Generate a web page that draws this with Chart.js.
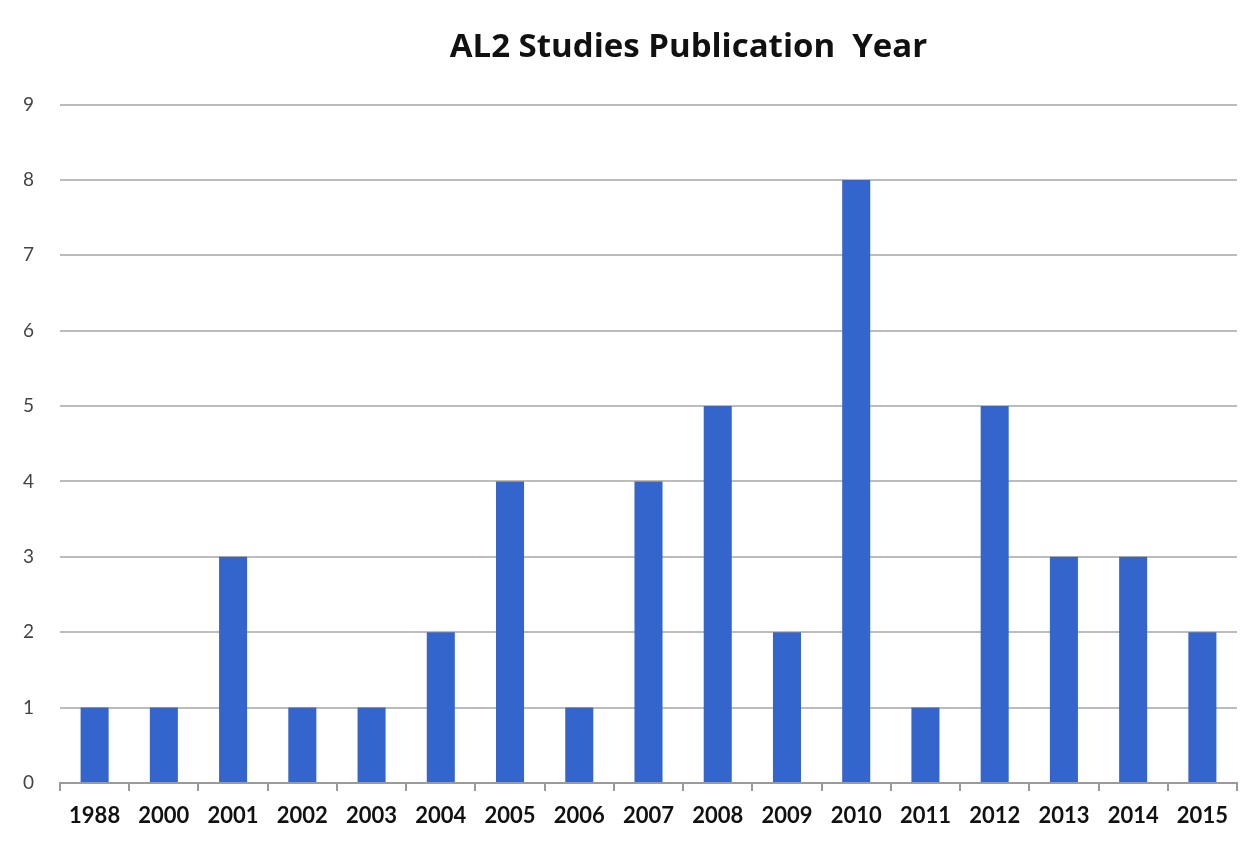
<!DOCTYPE html>
<html>
<head>
<meta charset="utf-8">
<script src="https://cdn.jsdelivr.net/npm/chart.js@4"></script>
<style>
  html, body { margin: 0; padding: 0; background: #fff; }
  #wrap { width: 1249px; height: 847px; }
</style>
</head>
<body>
<div id="wrap"><canvas id="chart"></canvas></div>
<script>
const years = ['1988', '2000', '2001', '2002', '2003', '2004', '2005', '2006', '2007',
               '2008', '2009', '2010', '2011', '2012', '2013', '2014', '2015'];
const studies = [1, 1, 3, 1, 1, 2, 4, 1, 4, 5, 2, 8, 1, 5, 3, 3, 2];
const yTicks = [0, 1, 2, 3, 4, 5, 6, 7, 8, 9];

// title sits a bit right of the canvas centre in the original
const shiftTitle = {
    id: 'shiftTitle',
    afterLayout(chart) {
        const t = chart.titleBlock;
        if (!t) return;
        t.left += 70;
        t.right += 70;
    }
};

const ctx = document.getElementById('chart').getContext('2d');
new Chart(ctx, {
    type: 'bar',
    data: {
        labels: years,
        datasets: [{
            label: 'Studies',
            data: studies,
            backgroundColor: '#3465cc',
            barPercentage: 0.405,
            categoryPercentage: 1.0
        }]
    },
    options: {
        responsive: true,
        maintainAspectRatio: false,
        animation: false,
        layout: { padding: { top: 0, right: 12, bottom: 0, left: 0 } },
        plugins: {
            legend: { display: false },
            tooltip: { enabled: false },
            title: {
                display: true,
                text: 'AL2 Studies Publication  Year',
                color: '#111',
                font: { family: 'Open Sans', size: 33, weight: 'bold', lineHeight: 1.2 },
                padding: { top: 28, bottom: 37 }
            }
        },
        scales: {
            x: {
                afterFit(scale) { scale.height = 64; },
                grid: {
                    display: true,
                    drawOnChartArea: false,
                    drawTicks: true,
                    tickLength: 8,
                    color: '#9a9a9a',
                    lineWidth: 2,
                    offset: true
                },
                border: { display: true, color: '#9a9a9a', width: 2 },
                ticks: {
                    color: '#111',
                    padding: 12,
                    font: { family: 'Lato', size: 22, weight: 'bold' },
                    maxRotation: 0,
                    autoSkip: false
                }
            },
            y: {
                min: 0,
                max: 9,
                afterFit(scale) { scale.width = 60; },
                afterBuildTicks(scale) { scale.ticks = yTicks.map(v => ({ value: v })); },
                grid: { color: '#bcbcbc', lineWidth: 2, drawTicks: false },
                border: { display: false },
                ticks: {
                    color: '#444',
                    padding: 26,
                    font: { family: 'Lato', size: 19 }
                }
            }
        }
    },
    plugins: [shiftTitle]
});
</script>
</body>
</html>
